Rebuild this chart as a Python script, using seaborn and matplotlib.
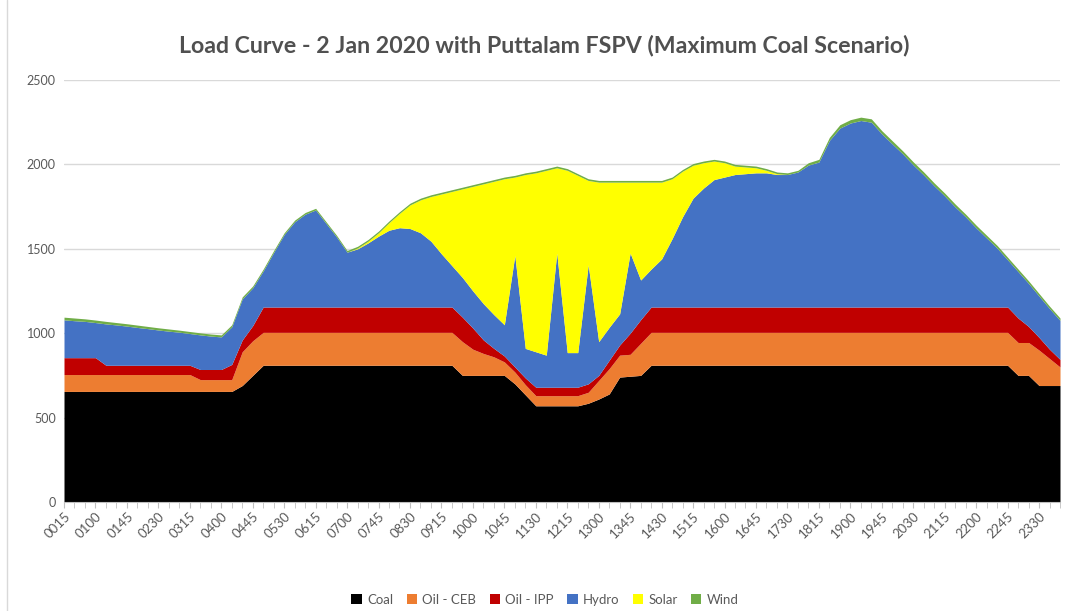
import numpy as np
import matplotlib.pyplot as plt
import seaborn as sns
from matplotlib.patches import Patch

sns.set_style('white')
plt.rcParams['font.family'] = ['Lato', 'DejaVu Sans']

# 15-minute slots, 0015 .. 2400
slots = [f"{(15 * (i + 1)) // 60:02d}{(15 * (i + 1)) % 60:02d}" for i in range(96)]
tick_labels = ['0015', '0100', '0145', '0230', '0315', '0400', '0445', '0530',
               '0615', '0700', '0745', '0830', '0915', '1000', '1045', '1130',
               '1215', '1300', '1345', '1430', '1515', '1600', '1645', '1730',
               '1815', '1900', '1945', '2030', '2115', '2200', '2245', '2330']

coal = [655, 655, 655, 655, 655, 655, 655, 655, 655, 655, 655, 655, 655, 655, 655, 655,
        655, 690, 750, 810, 810, 810, 810, 810, 810, 810, 810, 810, 810, 810, 810, 810,
        810, 810, 810, 810, 810, 810, 750, 750, 750, 750, 750, 700, 635, 570, 570, 570,
        570, 570, 585, 610, 640, 740, 745, 750, 810, 810, 810, 810, 810, 810, 810, 810,
        810, 810, 810, 810, 810, 810, 810, 810, 810, 810, 810, 810, 810, 810, 810, 810,
        810, 810, 810, 810, 810, 810, 810, 810, 810, 810, 810, 750, 750, 690, 690, 690]

oil_ceb = [100, 100, 100, 100, 100, 100, 100, 100, 100, 100, 100, 100, 100, 70, 70, 70,
           70, 200, 205, 195, 195, 195, 195, 195, 195, 195, 195, 195, 195, 195, 195, 195,
           195, 195, 195, 195, 195, 195, 200, 155, 130, 110, 80, 70, 60, 60, 60, 60,
           60, 60, 65, 110, 150, 130, 130, 190, 195, 195, 195, 195, 195, 195, 195, 195,
           195, 195, 195, 195, 195, 195, 195, 195, 195, 195, 195, 195, 195, 195, 195, 195,
           195, 195, 195, 195, 195, 195, 195, 195, 195, 195, 195, 195, 195, 210, 160, 110]

oil_ipp = [100, 100, 100, 100, 55, 55, 55, 55, 55, 55, 55, 55, 55, 60, 60, 60,
           90, 70, 90, 150, 150, 150, 150, 150, 150, 150, 150, 150, 150, 150, 150, 150,
           150, 150, 150, 150, 150, 150, 145, 125, 80, 50, 35, 30, 40, 50, 50, 50,
           50, 50, 50, 30, 50, 60, 125, 140, 150, 150, 150, 150, 150, 150, 150, 150,
           150, 150, 150, 150, 150, 150, 150, 150, 150, 150, 150, 150, 150, 150, 150, 150,
           150, 150, 150, 150, 150, 150, 150, 150, 150, 150, 150, 145, 95, 75, 55, 45]

hydro = [224, 219, 215, 208, 245, 239, 232, 224, 217, 209, 202, 196, 188, 205, 198, 193,
         223, 243, 224, 214, 324, 430, 505, 550, 575, 495, 415, 325, 345, 380, 420, 455,
         470, 465, 440, 390, 315, 245, 235, 220, 215, 200, 185, 660, 175, 210, 190, 795,
         205, 205, 705, 200, 195, 185, 475, 235, 225, 285, 405, 535, 645, 705, 755, 770,
         785, 790, 795, 795, 785, 785, 800, 841, 859, 987, 1060, 1090, 1105, 1095, 1026, 966,
         907, 842, 782, 718, 658, 593, 534, 469, 409, 349, 280, 275, 255, 245, 241, 231]

solar = [0, 0, 0, 0, 0, 0, 0, 0, 0, 0, 0, 0, 0, 0, 0, 0,
         0, 0, 0, 0, 0, 0, 0, 0, 0, 0, 0, 0, 5, 10, 20, 45,
         85, 140, 195, 265, 355, 440, 525, 620, 710, 790, 865, 465, 1030, 1060, 1095, 505,
         1080, 1050, 500, 945, 860, 780, 420, 580, 515, 455, 355, 270, 195, 150, 110, 85,
         50, 40, 30, 15, 5, 0, 0, 0, 0, 0, 0, 0, 0, 0, 0, 0,
         0, 0, 0, 0, 0, 0, 0, 0, 0, 0, 0, 0, 0, 0, 0, 0]

wind = [16, 16, 15, 15, 15, 14, 14, 14, 13, 13, 13, 12, 12, 12, 12, 12,
        12, 12, 11, 11, 11, 10, 10, 10, 10, 10, 10, 10, 10, 10, 10, 10,
        10, 10, 10, 10, 10, 10, 10, 10, 10, 10, 10, 10, 10, 10, 10, 10,
        10, 10, 10, 10, 10, 10, 10, 10, 10, 10, 10, 10, 10, 10, 10, 10,
        10, 10, 10, 10, 10, 10, 10, 14, 16, 18, 20, 20, 20, 20, 19, 19,
        18, 18, 18, 17, 17, 17, 16, 16, 16, 16, 15, 15, 15, 15, 14, 14]

series_names = ['Coal', 'Oil - CEB', 'Oil - IPP', 'Hydro', 'Solar', 'Wind']
colors = ['#000000', '#ED7D31', '#C00000', '#4472C4', '#FFFF00', '#70AD47']

x = np.arange(len(slots))

fig = plt.figure(figsize=(10.71, 6.11), dpi=100)
ax = fig.add_axes([64 / 1071, 1 - 502 / 611, (1060 - 64) / 1071, (502 - 80) / 611])

ax.stackplot(x, coal, oil_ceb, oil_ipp, hydro, solar, wind,
             colors=colors, linewidth=0, zorder=2)

ax.set_xlim(0, len(slots) - 1)
ax.set_ylim(0, 2500)
ax.set_yticks(range(0, 2501, 500))
ax.grid(axis='y', color='#D9D9D9', linewidth=1, zorder=0)
ax.set_axisbelow(True)

ax.set_xticks(x, minor=True)
tick_pos = [slots.index(t) for t in tick_labels]
ax.set_xticks(tick_pos)
ax.set_xticklabels(tick_labels, rotation=45, ha='right', rotation_mode='anchor',
                   fontsize=9.5, color='#595959')
ax.tick_params(axis='x', which='both', length=4, color='#BFBFBF', direction='out',
               bottom=True, pad=2)
ax.tick_params(axis='y', labelsize=9, colors='#595959', length=0, pad=6)

for side in ['top', 'right', 'left']:
    ax.spines[side].set_visible(False)
ax.spines['bottom'].set_color('#BFBFBF')
ax.spines['bottom'].set_zorder(3)

fig.text(544 / 1071, 1 - 45 / 611,
         'Load Curve - 2 Jan 2020 with Puttalam FSPV (Maximum Coal Scenario)',
         ha='center', va='center', fontsize=16.7, fontweight='bold', color='#505050')

handles = [Patch(facecolor=c, edgecolor='none') for c in colors]
fig.legend(handles, series_names, loc='center', bbox_to_anchor=(545 / 1071, 1 - 600 / 611),
           ncol=6, frameon=False, fontsize=9.5, handlelength=0.8, handleheight=0.8,
           handletextpad=0.4, columnspacing=1.0, labelcolor='#595959')

# chart area border on the left
fig.add_artist(plt.Line2D([7 / 1071, 7 / 1071], [0, 1], color='#D9D9D9', linewidth=1))

fig.savefig('out.png', dpi=100)
